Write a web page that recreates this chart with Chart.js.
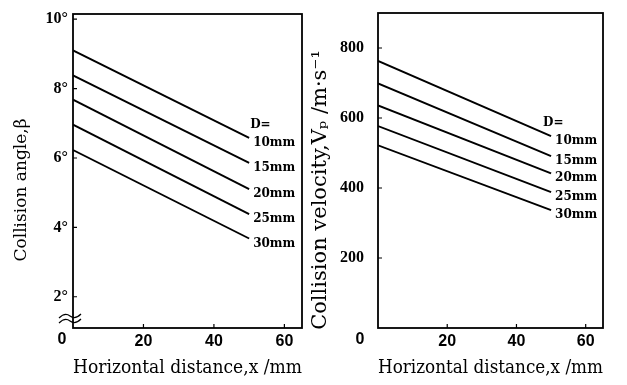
<!DOCTYPE html>
<html>
<head>
<meta charset="utf-8">
<script src="https://cdn.jsdelivr.net/npm/chart.js@4.4.1/dist/chart.umd.min.js"></script>
<style>
  body { margin: 0; background: #fff; }
  canvas { position: absolute; top: 0; }
</style>
</head>
<body>
<canvas id="angleChart" width="313" height="385" style="left:0"></canvas>
<canvas id="velocityChart" width="327" height="385" style="left:300px"></canvas>
<script>
// horizontal distance x (mm) where each line starts and ends
var distances = [0, 50];
var diameterLabels = ['10mm', '15mm', '20mm', '25mm', '30mm'];

// collision angle (deg) for each D
var angle10 = [9.1, 6.58];
var angle15 = [8.38, 5.86];
var angle20 = [7.68, 5.1];
var angle25 = [6.96, 4.38];
var angle30 = [6.23, 3.68];

// collision velocity (m/s) for each D
var velocity10 = [763, 548];
var velocity15 = [699, 491];
var velocity20 = [636, 442];
var velocity25 = [577, 388];
var velocity30 = [522, 337];

var xTicks = [0, 20, 40, 60];
var angleTicks = [2, 4, 6, 8, 10];
var velocityTicks = [200, 400, 600, 800];

var serif = '"DejaVu Serif", serif';
var xTickFont = { family: '"Liberation Sans", sans-serif', size: 16, weight: 'bold' };
var yTickFont = { family: '"Liberation Serif", serif', size: 16, weight: 'bold' };

function makeDatasets(series) {
    return series.map(function (values) {
        return {
            data: values.map(function (v, i) { return { x: distances[i], y: v }; }),
            borderColor: '#000',
            borderWidth: 1.9,
            pointRadius: 0,
            fill: false,
            tension: 0
        };
    });
}

// frame, inward ticks, line labels, axis break and y title
var framePlugin = {
    id: 'frame',
    afterDraw: function (chart, args, opts) {
        var ctx = chart.ctx;
        var a = chart.chartArea;
        var xs = chart.scales.x, ys = chart.scales.y;
        ctx.save();
        ctx.strokeStyle = '#000';
        ctx.lineWidth = 1.8;
        ctx.strokeRect(a.left, a.top, a.right - a.left, a.bottom - a.top);

        ctx.lineWidth = 1.2;
        ctx.beginPath();
        xTicks.forEach(function (t) {
            if (t <= 0) return;
            var px = xs.getPixelForValue(t);
            ctx.moveTo(px, a.bottom);
            ctx.lineTo(px, a.bottom - 4);
        });
        opts.yTicks.forEach(function (t) {
            var py = ys.getPixelForValue(t);
            ctx.moveTo(a.left, py);
            ctx.lineTo(a.left + 4, py);
        });
        ctx.stroke();

        // origin label
        ctx.fillStyle = '#000';
        ctx.font = 'bold 16px "Liberation Sans", sans-serif';
        ctx.textAlign = 'center';
        ctx.textBaseline = 'middle';
        ctx.fillText('0', a.left - opts.originOffset, a.bottom + 12);

        // D labels at the line ends
        ctx.font = 'bold 12px ' + serif;
        ctx.textAlign = 'left';
        chart.data.datasets.forEach(function (ds, i) {
            var meta = chart.getDatasetMeta(i);
            var p = meta.data[meta.data.length - 1];
            if (i === 0) ctx.fillText('D=', p.x + opts.dOffset, p.y - 13);
            ctx.fillText(diameterLabels[i], p.x + 4, p.y + 5);
        });

        // axis break mark
        if (opts.axisBreak) {
            ctx.lineWidth = 1.2;
            [a.bottom - 12, a.bottom - 7].forEach(function (by) {
                ctx.beginPath();
                ctx.moveTo(a.left - 14, by + 2);
                ctx.quadraticCurveTo(a.left - 8, by - 4, a.left - 3, by);
                ctx.quadraticCurveTo(a.left + 2, by + 4, a.left + 8, by - 2);
                ctx.stroke();
            });
        }

        // y axis title
        ctx.translate(opts.titleX, opts.titleY);
        ctx.rotate(-Math.PI / 2);
        ctx.font = opts.titleFont;
        ctx.textAlign = 'center';
        ctx.textBaseline = 'middle';
        ctx.fillText(opts.title, 0, 0);
        ctx.restore();
    }
};

function makeChart(id, series, yMin, yMax, yTicks, tickLabel, layout, frame) {
    var ctx = document.getElementById(id).getContext('2d');
    return new Chart(ctx, {
        type: 'line',
        data: { datasets: makeDatasets(series) },
        options: {
            responsive: false,
            animation: false,
            devicePixelRatio: 1,
            layout: { padding: layout.padding },
            plugins: {
                legend: { display: false },
                tooltip: { enabled: false },
                frame: frame
            },
            scales: {
                x: {
                    type: 'linear',
                    min: 0,
                    max: 65,
                    afterBuildTicks: function (s) { s.ticks = xTicks.map(function (v) { return { value: v }; }); },
                    afterFit: function (s) { s.height = 57; s.paddingLeft = 0; s.paddingRight = 0; },
                    grid: { display: false, drawTicks: false },
                    border: { display: false },
                    ticks: {
                        color: '#000',
                        font: xTickFont,
                        padding: 4,
                        maxRotation: 0,
                        callback: function (v) { return v === 0 ? '' : v; }
                    },
                    title: {
                        display: true,
                        text: 'Horizontal distance,x /mm',
                        color: '#000',
                        font: { family: serif, size: 18 },
                        padding: { top: 0, bottom: 6 }
                    }
                },
                y: {
                    type: 'linear',
                    min: yMin,
                    max: yMax,
                    afterBuildTicks: function (s) { s.ticks = yTicks.map(function (v) { return { value: v }; }); },
                    afterFit: function (s) { s.width = layout.yWidth; s.paddingTop = 0; s.paddingBottom = 0; },
                    grid: { display: false, drawTicks: false },
                    border: { display: false },
                    ticks: {
                        color: '#000',
                        font: yTickFont,
                        padding: layout.tickPadding,
                        callback: tickLabel
                    }
                }
            }
        },
        plugins: [framePlugin]
    });
}

makeChart('angleChart',
    [angle10, angle15, angle20, angle25, angle30],
    1.1, 10.15, angleTicks,
    function (v) { return v + '°'; },
    { padding: { top: 14, right: 11, left: 0, bottom: 0 }, yWidth: 73, tickPadding: 5 },
    { yTicks: angleTicks, originOffset: 11, dOffset: 1, axisBreak: true,
      title: 'Collision angle,β', titleX: 22, titleY: 190, titleFont: '17px ' + serif });

makeChart('velocityChart',
    [velocity10, velocity15, velocity20, velocity25, velocity30],
    0, 900, velocityTicks,
    function (v) { return v; },
    { padding: { top: 13, right: 24, left: 0, bottom: 0 }, yWidth: 78, tickPadding: 14 },
    { yTicks: velocityTicks, originOffset: 18, dOffset: -8, axisBreak: false,
      title: 'Collision velocity,Vₚ /m·s⁻¹', titleX: 21, titleY: 190, titleFont: '21px ' + serif });
</script>
</body>
</html>
